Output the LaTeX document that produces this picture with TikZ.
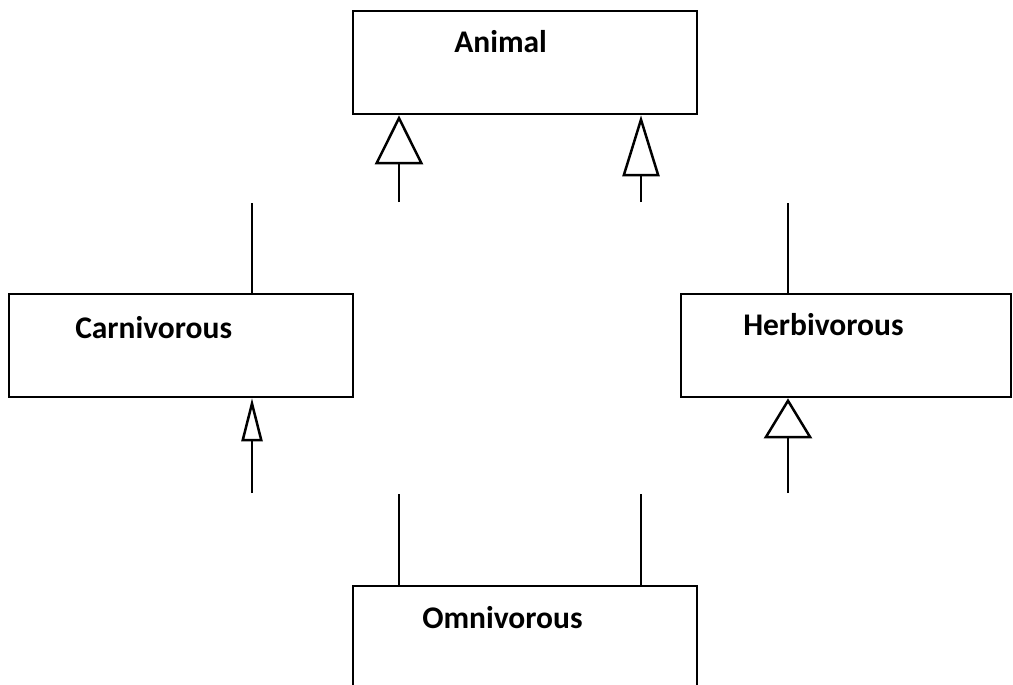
\documentclass[tikz,border=0pt]{standalone}
\usepackage{fontspec}
\setmainfont{Carlito}
\usetikzlibrary{arrows.meta}
\begin{document}
\begin{tikzpicture}[x=1pt,y=-1pt,line width=2.5pt,
  box/.style={draw=black,line width=2.6pt,minimum width=344pt,minimum height=103pt,inner sep=0pt},
  lbl/.style={anchor=base west,inner sep=0pt,font=\fontsize{31.5}{36}\selectfont\bfseries},
  inhA/.style={-{Triangle[open,length=49pt,width=48pt,line width=2.5pt]}},
  inhB/.style={-{Triangle[open,length=61pt,width=37pt,line width=2.5pt]}},
  inhC/.style={-{Triangle[open,length=43pt,width=21pt,line width=2.5pt]}},
  inhD/.style={-{Triangle[open,length=40pt,width=48pt,line width=2.5pt]}}]
\clip (0,0) rectangle (1013,685);
% class boxes
\node[box] (animal) at (525,62.5) {};
\node[box] (carn) at (181,345.5) {};
\node[box,minimum width=330pt] (herb) at (846,345.5) {};
\node[box] (omni) at (525,637.5) {};
% class names
\node[lbl] (animalT) at (453,53) {Animal};
\node[lbl] (carnT) at (74,338) {Carnivorous};
\node[lbl] (herbT) at (742,335) {Herbivorous};
\node[lbl] (omniT) at (421,628) {Omnivorous};
% loose ends of the generalisation lines
\coordinate (carnUp) at (252,203);
\coordinate (animalL) at (399,202);
\coordinate (herbUp) at (788,203);
\coordinate (animalR) at (641,202);
\coordinate (carnIn) at (252,493);
\coordinate (omniL) at (399,494);
\coordinate (herbIn) at (788,493);
\coordinate (omniR) at (641,494);
% Carnivorous -> Animal
\draw (carn.north -| carnUp) -- (carnUp);
\draw[inhA] (animalL) -- (animal.south -| animalL);
% Herbivorous -> Animal
\draw (herb.north -| herbUp) -- (herbUp);
\draw[inhB] (animalR) -- (animal.south -| animalR);
% Omnivorous -> Carnivorous
\draw (omni.north -| omniL) -- (omniL);
\draw[inhC] (carnIn) -- (carn.south -| carnIn);
% Omnivorous -> Herbivorous
\draw (omni.north -| omniR) -- (omniR);
\draw[inhD] (herbIn) -- (herb.south -| herbIn);
\end{tikzpicture}
\end{document}
